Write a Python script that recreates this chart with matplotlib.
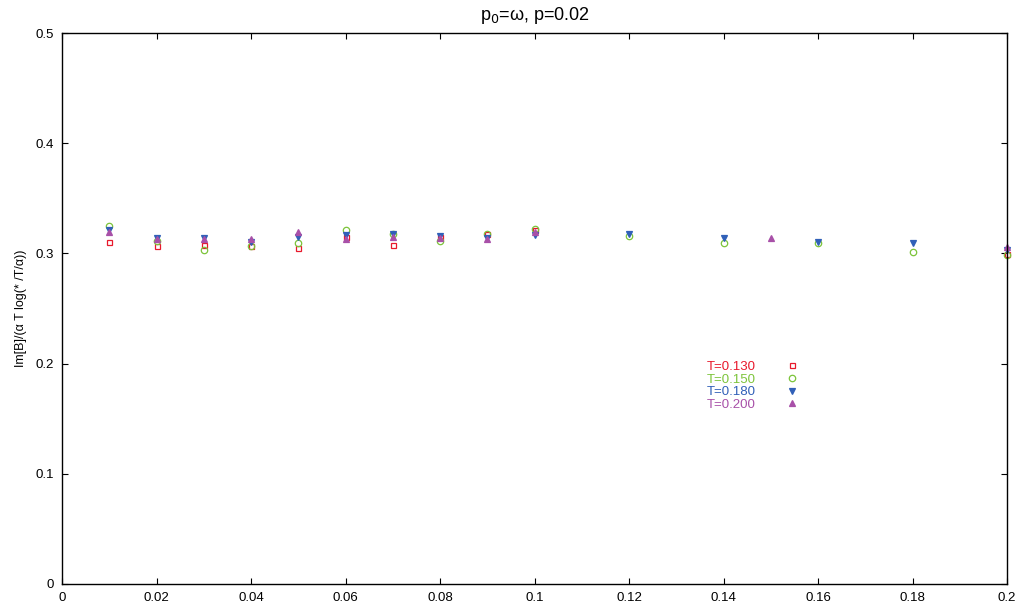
import numpy as np
import matplotlib
matplotlib.use("Agg")
import matplotlib.pyplot as plt
from matplotlib.ticker import FixedLocator

plt.rcParams['font.family'] = ['Liberation Sans', 'DejaVu Sans']

# data
x_130 = [0.01, 0.02, 0.03, 0.04, 0.05, 0.06, 0.07, 0.08, 0.09, 0.10, 0.20]
y_130 = [0.310, 0.307, 0.308, 0.307, 0.305, 0.315, 0.308, 0.315, 0.318, 0.321, 0.2995]

x_150 = [0.01, 0.02, 0.03, 0.04, 0.05, 0.06, 0.07, 0.08, 0.09, 0.10, 0.12, 0.14, 0.16, 0.18, 0.20]
y_150 = [0.325, 0.311, 0.303, 0.307, 0.309, 0.321, 0.318, 0.311, 0.318, 0.322, 0.316, 0.309, 0.309, 0.301, 0.299]

x_180 = [0.01, 0.02, 0.03, 0.04, 0.05, 0.06, 0.07, 0.08, 0.09, 0.10, 0.12, 0.14, 0.16, 0.18, 0.20]
y_180 = [0.321, 0.314, 0.314, 0.310, 0.315, 0.317, 0.318, 0.3155, 0.314, 0.317, 0.318, 0.314, 0.310, 0.3095, 0.303]

x_200 = [0.01, 0.02, 0.03, 0.04, 0.05, 0.06, 0.07, 0.08, 0.09, 0.10, 0.15, 0.20]
y_200 = [0.319, 0.313, 0.313, 0.313, 0.319, 0.313, 0.315, 0.314, 0.313, 0.319, 0.314, 0.3055]

xticks = [0, 0.02, 0.04, 0.06, 0.08, 0.1, 0.12, 0.14, 0.16, 0.18, 0.2]
yticks = [0, 0.1, 0.2, 0.3, 0.4, 0.5]

fig = plt.figure(figsize=(10.22, 6.07), dpi=100)
ax = fig.add_axes([62/1022, 23/607, 945/1022, 551/607])

series = [
    (x_130, y_130, "T=0.130", "#e8192c", "s", "none", 3.6),
    (x_150, y_150, "T=0.150", "#7cc43a", "o", "none", 4.6),
    (x_180, y_180, "T=0.180", "#3060b8", "v", "#3060b8", 4.2),
    (x_200, y_200, "T=0.200", "#a850a8", "^", "#a850a8", 4.2),
]
for xs, ys, lab, c, m, fc, ms in series:
    ax.plot(xs, ys, ls="none", marker=m, mfc=fc, mec=c, mew=0.9, ms=ms,
            label=lab, clip_on=False)

ax.set_xlim(0, 0.2)
ax.set_ylim(0, 0.5)
ax.xaxis.set_major_locator(FixedLocator(xticks))
ax.yaxis.set_major_locator(FixedLocator(yticks))
ax.set_xticklabels(["%g" % t for t in xticks])
ax.set_yticklabels(["%g" % t for t in yticks])
ax.tick_params(direction="in", top=True, right=True, length=4, labelsize=9.5)
ax.tick_params(axis="x", pad=6)
ax.tick_params(axis="y", pad=6)
for s in ax.spines.values():
    s.set_linewidth(1.0)

ax.set_title(r"p$_0$=ω, p=0.02", fontsize=13, pad=9)
ax.set_ylabel("Im[B]/(α T log(* /T/α))", fontsize=9, labelpad=6)

leg = ax.legend(loc="upper left", bbox_to_anchor=(0.6755, 0.417), frameon=False,
                markerfirst=False, fontsize=9.5, handletextpad=2.2,
                labelspacing=0.03, borderpad=0, handlelength=1.0)
for txt, (_, _, _, c, _, _, _) in zip(leg.get_texts(), series):
    txt.set_color(c)

fig.savefig("out.png", dpi=100)
